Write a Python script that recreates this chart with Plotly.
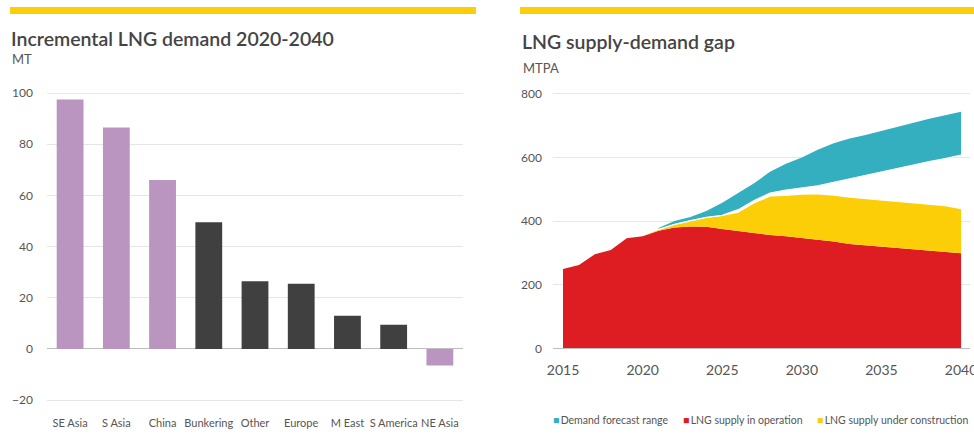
import plotly.graph_objects as go

# ---- Incremental LNG demand 2020-2040 (MT) ----
regions = ["SE Asia", "S Asia", "China", "Bunkering", "Other", "Europe",
           "M East", "S America", "NE Asia"]
demand_increment = [97.5, 86.5, 66, 49.5, 26.5, 25.5, 13, 9.5, -6.5]
region_group = ["Asia", "Asia", "Asia", "Rest", "Rest", "Rest", "Rest", "Rest", "Asia"]

# ---- LNG supply-demand gap (MTPA) ----
years = list(range(2015, 2041))
supply_operation = [249, 262, 296, 309, 346, 352, 370, 380, 383, 382, 375, 368, 362,
                    356, 352, 347, 343, 336, 328, 324, 320, 315, 310, 307, 303, 299]
supply_construction = [0, 0, 0, 0, 0, 0, 2, 8, 15, 28, 41, 58, 93,
                       121, 127, 136, 141, 144, 145, 145, 144, 145, 147, 145, 144, 138]
demand_years = list(range(2021, 2041))
demand_low = [374, 390, 402, 412, 418, 436, 465, 488, 498, 505, 511, 522,
              533, 545, 555, 565, 576, 587, 597, 608]
demand_high = [378, 400, 413, 432, 458, 488, 519, 555, 580, 600, 624, 645,
               660, 671, 684, 697, 710, 722, 733, 744]

left_ticks = [-20, 0, 20, 40, 60, 80, 100]
right_ticks = [0, 200, 400, 600, 800]
year_ticks = [2015, 2020, 2025, 2030, 2035, 2040]

PURPLE = "#B995C0"
DARK = "#404040"
TEAL = "#33AFBF"
RED = "#DD1D21"
YELLOW = "#FBCE07"
GRID = "#E6E6E6"
TEXT = "#444444"
TICK = "#555555"
FONT = "Lato, 'Noto Sans', sans-serif"

group_colors = {"Asia": PURPLE, "Rest": DARK}
bar_colors = [group_colors[g] for g in region_group]

fig = go.Figure()

fig.add_trace(go.Bar(
    x=regions, y=demand_increment, marker=dict(color=bar_colors, line=dict(width=0)),
    width=0.58, xaxis="x", yaxis="y", showlegend=False, hoverinfo="x+y",
))

supply_total = [o + c for o, c in zip(supply_operation, supply_construction)]

fig.add_trace(go.Scatter(
    x=years, y=supply_operation, mode="lines", line=dict(width=0, color=RED),
    fill="tozeroy", fillcolor=RED, xaxis="x2", yaxis="y2",
    name="LNG supply in operation", showlegend=False,
))
fig.add_trace(go.Scatter(
    x=years, y=supply_total, mode="lines", line=dict(width=0, color=YELLOW),
    fill="tonexty", fillcolor=YELLOW, xaxis="x2", yaxis="y2",
    name="LNG supply under construction", showlegend=False,
))
fig.add_trace(go.Scatter(
    x=demand_years, y=demand_low, mode="lines", line=dict(width=1.1, color="white"),
    xaxis="x2", yaxis="y2", showlegend=False, hoverinfo="skip",
))
fig.add_trace(go.Scatter(
    x=demand_years, y=demand_high, mode="lines", line=dict(width=0, color=TEAL),
    fill="tonexty", fillcolor=TEAL, xaxis="x2", yaxis="y2",
    name="Demand forecast range", showlegend=False,
))

W, H = 974, 447


def px_x(p):
    return p / W


def px_y(p):
    return 1 - p / H


fig.update_layout(
    template="none",
    width=W, height=H,
    margin=dict(l=0, r=0, t=0, b=0, pad=0),
    paper_bgcolor="white", plot_bgcolor="white",
    font=dict(family=FONT, color=TICK, size=12),
    xaxis=dict(
        domain=[px_x(47), px_x(463)], anchor="y", type="category",
        range=[-0.5, 8.5], showgrid=False, showline=False, zeroline=False,
        automargin=False, tickangle=0, ticks="", ticklabelstandoff=10,
        tickfont=dict(size=11, color=TICK),
    ),
    yaxis=dict(
        domain=[px_y(405.3), px_y(87.9)], anchor="x",
        range=[-22, 102], tickvals=left_ticks, showgrid=True, gridcolor=GRID,
        gridwidth=1, zeroline=True, zerolinecolor="#BDBDBD", zerolinewidth=1,
        showline=False, automargin=False, ticks="", ticklabelstandoff=13,
        tickfont=dict(size=12, color=TICK),
    ),
    xaxis2=dict(
        domain=[px_x(553), px_x(970)], anchor="y2",
        range=[2014.37, 2040.56], tickvals=year_ticks, showgrid=False,
        zeroline=False, showline=True, linecolor="#BDBDBD", linewidth=1,
        automargin=False, ticks="", ticklabelstandoff=9,
        ticklabeloverflow="allow", tickfont=dict(size=14, color=TICK),
    ),
    yaxis2=dict(
        domain=[px_y(348.3), px_y(90.7)], anchor="x2",
        range=[0, 810], tickvals=right_ticks, showgrid=True, gridcolor=GRID,
        gridwidth=1, zeroline=False, showline=False, automargin=False,
        ticks="", ticklabelstandoff=10, tickfont=dict(size=12, color=TICK),
    ),
    shapes=[
        dict(type="rect", xref="paper", yref="paper",
             x0=px_x(10), x1=px_x(476), y0=px_y(14), y1=px_y(7),
             fillcolor=YELLOW, line=dict(width=0), layer="above"),
        dict(type="rect", xref="paper", yref="paper",
             x0=px_x(520), x1=1, y0=px_y(14), y1=px_y(7),
             fillcolor=YELLOW, line=dict(width=0), layer="above"),
    ],
)

annotations = [
    dict(text="Incremental LNG demand 2020-2040", x=px_x(9), y=px_y(39),
         font=dict(size=19.5, color=TEXT, weight=600)),
    dict(text="MT", x=px_x(10), y=px_y(59), font=dict(size=13, color=TICK)),
    dict(text="LNG supply-demand gap", x=px_x(520), y=px_y(42),
         font=dict(size=19.5, color=TEXT, weight=600)),
    dict(text="MTPA", x=px_x(521), y=px_y(68), font=dict(size=13, color=TICK)),
]

legend_items = [
    ("Demand forecast range", TEAL, 551),
    ("LNG supply in operation", RED, 681),
    ("LNG supply under construction", YELLOW, 815),
]
for label, color, xpos in legend_items:
    annotations.append(dict(
        text=f"<span style='color:{color}'>■</span>\u2009{label}",
        x=px_x(xpos), y=px_y(420), font=dict(size=10.5, color=TICK),
    ))

for a in annotations:
    a.update(xref="paper", yref="paper", xanchor="left", yanchor="middle",
             showarrow=False)
fig.update_layout(annotations=annotations)

fig.write_html("out.html")
